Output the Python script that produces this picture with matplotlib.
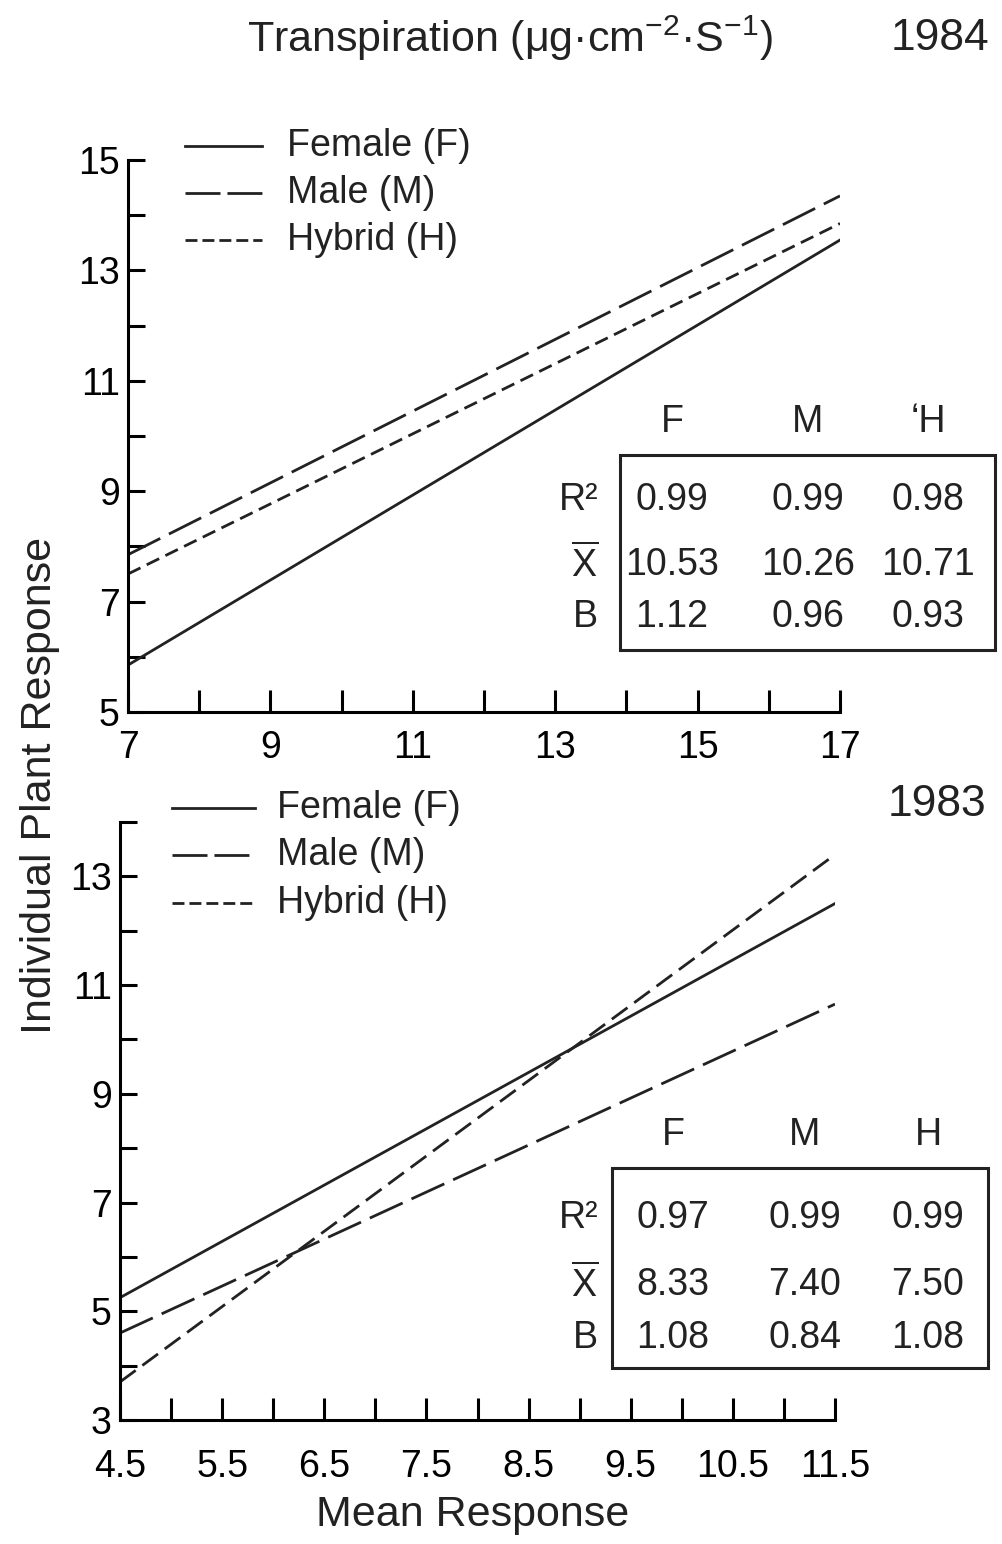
import numpy as np
import matplotlib
matplotlib.use('Agg')
import matplotlib.pyplot as plt

plt.rcParams['font.family'] = ['Liberation Sans', 'DejaVu Sans']
plt.rcParams['mathtext.fontset'] = 'custom'
plt.rcParams['mathtext.rm'] = 'Liberation Sans'
plt.rcParams['mathtext.it'] = 'Liberation Sans'

# 1984 panel: end points of the fitted lines
x_1984 = [7, 17]
female_1984 = [5.85, 13.55]
male_1984 = [7.85, 14.35]
hybrid_1984 = [7.5, 13.85]

# 1983 panel
x_1983 = [4.5, 11.5]
female_1983 = [5.25, 12.5]
male_1983 = [4.6, 10.65]
hybrid_1983 = [3.7, 13.4]

groups = ['F', 'M', 'H']
groups_1984 = ['F', 'M', '\u02bbH']
stats_rows = ['R\u00b2', r'$\overline{\mathrm{X}}$', 'B']
stats_1984 = [['0.99', '0.99', '0.98'],
              ['10.53', '10.26', '10.71'],
              ['1.12', '0.96', '0.93']]
stats_1983 = [['0.97', '0.99', '0.99'],
              ['8.33', '7.40', '7.50'],
              ['1.08', '0.84', '1.08']]

legend_labels = ['Female (F)', 'Male (M)', 'Hybrid (H)']

FS = 27
LW = 2.0
INK = '#222222'
male_dash = (13, 3.5)
hybrid_dash = (5, 2.5)

W, H = 1002, 1544
fig = plt.figure(figsize=(W / 100, H / 100), dpi=100)


def fx(px):
    return px / W


def fy(py):
    return 1 - py / H


def style_axes(ax, xpad):
    for s in ['top', 'right']:
        ax.spines[s].set_visible(False)
    for s in ['left', 'bottom']:
        ax.spines[s].set_linewidth(2.2)
    ax.tick_params(which='both', direction='in', width=2.2, labelsize=FS)
    ax.tick_params(axis='x', which='both', length=16, pad=xpad)
    ax.tick_params(axis='y', which='both', length=12, pad=6)


def draw_legend(x0, x1, tx, ys):
    fig.add_artist(plt.Line2D([fx(x0), fx(x1)], [fy(ys[0])] * 2, color=INK, lw=LW))
    fig.add_artist(plt.Line2D([fx(x0), fx(x1)], [fy(ys[1])] * 2, color=INK, lw=LW,
                              dashes=(12.6, 2.5)))
    fig.add_artist(plt.Line2D([fx(x0), fx(x1)], [fy(ys[2])] * 2, color=INK, lw=LW,
                              dashes=(4.3, 1.8)))
    for lab, y in zip(legend_labels, ys):
        fig.text(fx(tx), fy(y), lab, fontsize=FS, va='center', ha='left', color=INK)


def draw_table(box, col_x, head_y, row_y, label_x, heads, vals):
    x0, y0, x1, y1 = box
    fig.add_artist(plt.Rectangle((fx(x0), fy(y1)), fx(x1 - x0), (y1 - y0) / H,
                                 fill=False, lw=2.2, ec=INK))
    for h, cx in zip(heads, col_x):
        fig.text(fx(cx), fy(head_y), h, fontsize=FS, ha='center', va='center', color=INK)
    for r, ry, row in zip(stats_rows, row_y, vals):
        fig.text(fx(label_x), fy(ry), r, fontsize=FS, ha='right', va='center', color=INK)
        for v, cx in zip(row, col_x):
            fig.text(fx(cx), fy(ry), v, fontsize=FS, ha='center', va='center', color=INK)


# ---- 1984 panel ----
ax1 = fig.add_axes([fx(128), fy(712), fx(840 - 128), (712 - 160) / H])
ax1.plot(x_1984, female_1984, color=INK, lw=LW)
ax1.plot(x_1984, male_1984, color=INK, lw=LW, dashes=male_dash)
ax1.plot(x_1984, hybrid_1984, color=INK, lw=LW, dashes=hybrid_dash)
ax1.set_xlim(7, 17)
ax1.set_ylim(5, 15)
ax1.set_xticks(np.arange(7, 18, 2))
ax1.set_xticks(np.arange(8, 17, 2), minor=True)
ax1.set_yticks(np.arange(5, 16, 2))
ax1.set_yticks(np.arange(6, 15, 2), minor=True)
style_axes(ax1, 13)

draw_legend(185, 262, 287, [146, 193, 240])
draw_table((620, 455, 995, 650), [672, 808, 928], 422, [500, 565, 617], 598,
           groups_1984, stats_1984)

# ---- 1983 panel ----
ax2 = fig.add_axes([fx(120), fy(1420), fx(835 - 120), (1420 - 822) / H])
ax2.plot(x_1983, female_1983, color=INK, lw=LW)
ax2.plot(x_1983, male_1983, color=INK, lw=LW, dashes=male_dash)
ax2.plot(x_1983, hybrid_1983, color=INK, lw=LW, dashes=(7, 3))
ax2.set_xlim(4.5, 11.5)
ax2.set_ylim(3, 14)
ax2.set_xticks(np.arange(4.5, 11.6, 1.0))
ax2.set_xticks(np.arange(5.0, 11.1, 1.0), minor=True)
ax2.set_xticklabels([f'{v:.1f}' for v in np.arange(4.5, 11.6, 1.0)])
ax2.set_yticks(np.arange(3, 14, 2))
ax2.set_yticks(np.arange(4, 15, 2), minor=True)
style_axes(ax2, 21)

draw_legend(172, 255, 277, [808, 855, 903])
draw_table((612, 1168, 988, 1368), [673, 805, 928], 1135, [1218, 1285, 1338], 598,
           groups, stats_1983)

# ---- titles and labels ----
fig.text(fx(510), fy(38), 'Transpiration (\u03bcg\u00b7cm$^{-2}$\u00b7S$^{-1}$)', fontsize=31,
         ha='center', va='center', color=INK)
fig.text(fx(940), fy(38), '1984', fontsize=32, ha='center', va='center', color=INK)
fig.text(fx(937), fy(805), '1983', fontsize=32, ha='center', va='center', color=INK)
fig.text(fx(40), fy(785), 'Individual Plant Response', fontsize=31, rotation=90,
         ha='center', va='center', color=INK)
fig.text(fx(473), fy(1515), 'Mean Response', fontsize=31, ha='center', va='center',
         color=INK)

fig.savefig('out.png', dpi=100)
